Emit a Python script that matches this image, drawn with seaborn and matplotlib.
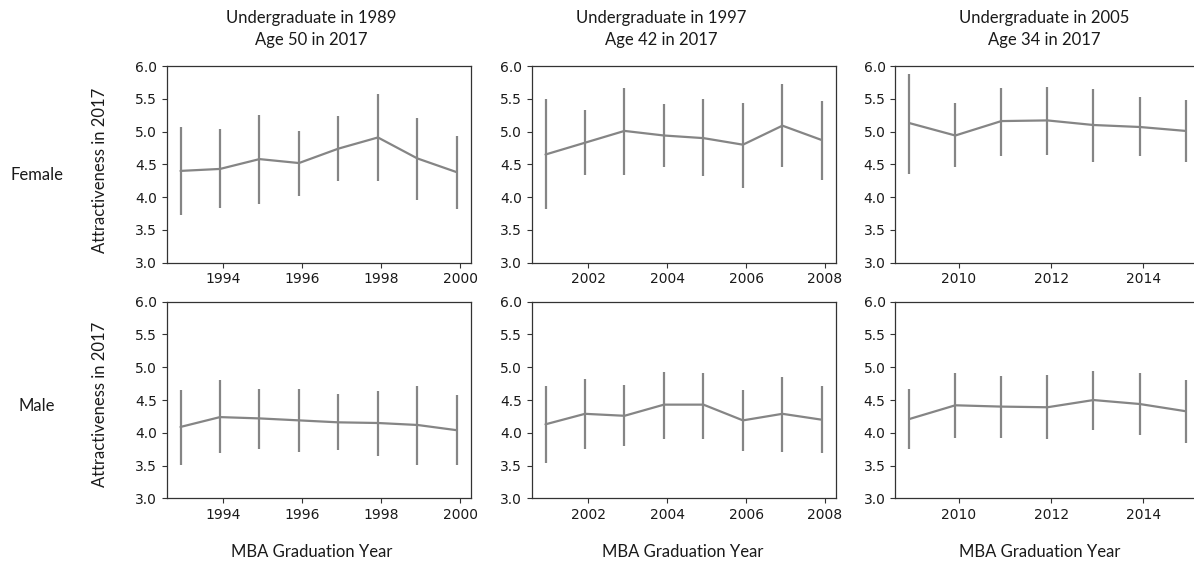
import matplotlib
matplotlib.use("Agg")
import matplotlib.pyplot as plt
from matplotlib.ticker import MultipleLocator
import numpy as np
import pandas as pd
import seaborn as sns

# Cohort panels: columns are undergraduate cohorts, rows are gender
cohort_titles = ["Undergraduate in 1989\nAge 50 in 2017",
                 "Undergraduate in 1997\nAge 42 in 2017",
                 "Undergraduate in 2005\nAge 34 in 2017"]
genders = ["Female", "Male"]

years_1989 = [1993, 1994, 1995, 1996, 1997, 1998, 1999, 2000]
years_1997 = [2001, 2002, 2003, 2004, 2005, 2006, 2007, 2008]
years_2005 = [2009, 2010, 2011, 2012, 2013, 2014, 2015]

# Female mean attractiveness and interval bounds
f89_mean = [4.40, 4.43, 4.58, 4.52, 4.74, 4.91, 4.59, 4.38]
f89_low = [3.72, 3.83, 3.90, 4.01, 4.24, 4.25, 3.96, 3.82]
f89_high = [5.07, 5.04, 5.25, 5.01, 5.24, 5.57, 5.21, 4.93]

f97_mean = [4.65, 4.83, 5.01, 4.94, 4.90, 4.80, 5.09, 4.87]
f97_low = [3.82, 4.33, 4.34, 4.46, 4.32, 4.14, 4.46, 4.26]
f97_high = [5.49, 5.33, 5.66, 5.42, 5.49, 5.44, 5.72, 5.46]

f05_mean = [5.13, 4.94, 5.16, 5.17, 5.10, 5.07, 5.01]
f05_low = [4.36, 4.46, 4.63, 4.65, 4.53, 4.62, 4.53]
f05_high = [5.88, 5.43, 5.66, 5.68, 5.65, 5.53, 5.48]

# Male mean attractiveness and interval bounds
m89_mean = [4.09, 4.24, 4.22, 4.19, 4.16, 4.15, 4.12, 4.04]
m89_low = [3.51, 3.69, 3.76, 3.71, 3.74, 3.64, 3.51, 3.51]
m89_high = [4.65, 4.80, 4.67, 4.67, 4.59, 4.64, 4.72, 4.58]

m97_mean = [4.13, 4.29, 4.26, 4.43, 4.43, 4.19, 4.29, 4.20]
m97_low = [3.54, 3.75, 3.80, 3.91, 3.90, 3.73, 3.71, 3.70]
m97_high = [4.71, 4.82, 4.73, 4.93, 4.92, 4.66, 4.85, 4.71]

m05_mean = [4.21, 4.42, 4.40, 4.39, 4.50, 4.44, 4.33]
m05_low = [3.75, 3.92, 3.92, 3.90, 4.04, 3.96, 3.84]
m05_high = [4.67, 4.91, 4.87, 4.88, 4.94, 4.92, 4.81]

y_ticks = [3.0, 3.5, 4.0, 4.5, 5.0, 5.5, 6.0]

panels = [
    [(years_1989, f89_mean, f89_low, f89_high),
     (years_1997, f97_mean, f97_low, f97_high),
     (years_2005, f05_mean, f05_low, f05_high)],
    [(years_1989, m89_mean, m89_low, m89_high),
     (years_1997, m97_mean, m97_low, m97_high),
     (years_2005, m05_mean, m05_low, m05_high)],
]

sns.set_theme(style="ticks", rc={"axes.edgecolor": "#333333",
                                 "xtick.color": "#333333",
                                 "ytick.color": "#333333",
                                 "xtick.labelcolor": "#1a1a1a",
                                 "ytick.labelcolor": "#1a1a1a"})
plt.rcParams["font.family"] = ["DejaVu Sans"]

W, H = 1194, 562
fig = plt.figure(figsize=(W / 100, H / 100), dpi=100)

col_left = [166.7, 531.7, 895.4]
row_top = [66.0, 301.7]
ax_w, ax_h = 304.0, 196.7
grad_shift = -0.08
line_color = "#858585"
label_font = ["Lato", "DejaVu Sans"]
text_color = "#1a1a1a"

for r in range(2):
    for c in range(3):
        years, mean, low, high = panels[r][c]
        ax = fig.add_axes([col_left[c] / W, 1 - (row_top[r] + ax_h) / H,
                           ax_w / W, ax_h / H])
        x = np.asarray(years, dtype=float) + grad_shift
        df = pd.DataFrame({"year": x, "score": mean})
        sns.lineplot(data=df, x="year", y="score", ax=ax, color=line_color,
                     linewidth=1.6)
        ax.vlines(x, low, high, color=line_color, linewidth=1.6)
        ax.set_ylim(3.0, 6.0)
        ax.set_yticks(y_ticks)
        ax.set_yticklabels([f"{t:.1f}" for t in y_ticks])
        ax.xaxis.set_major_locator(MultipleLocator(2))
        ax.set_xlabel("")
        ax.set_ylabel("")
        ax.tick_params(labelsize=10, length=3.5, width=0.8)
        for lbl in ax.get_xticklabels() + ax.get_yticklabels():
            lbl.set_family("DejaVu Sans")
        for s in ax.spines.values():
            s.set_linewidth(0.9)

# Column titles
title_cx = [311, 661, 1044]
for c in range(3):
    fig.text(title_cx[c] / W, 1 - 29 / H, cohort_titles[c], ha="center",
             va="center", fontsize=12, family=label_font, color=text_color,
             linespacing=1.4)

# Shared x labels
xlab_cx = [312, 682.5, 1040]
for c in range(3):
    fig.text(xlab_cx[c] / W, 1 - 551.7 / H, "MBA Graduation Year",
             ha="center", va="center", fontsize=12, family=label_font,
             color=text_color)

# Row labels and y labels
row_cy = [175, 406]
ylab_cy = [170, 404]
for r in range(2):
    fig.text(37 / W, 1 - row_cy[r] / H, genders[r], ha="center", va="center",
             fontsize=12, family=label_font, color=text_color)
    fig.text(100 / W, 1 - ylab_cy[r] / H, "Attractiveness in 2017",
             ha="center", va="center", rotation=90, fontsize=12,
             family=label_font, color=text_color)

fig.savefig("out.png", dpi=100)
